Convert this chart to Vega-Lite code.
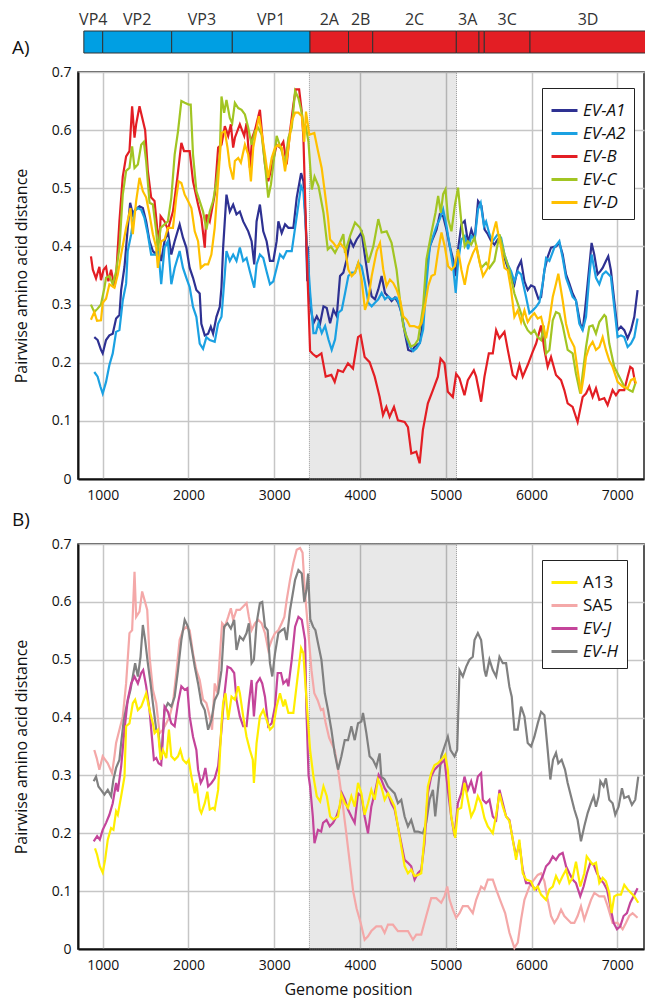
{
"$schema":"https://vega.github.io/schema/vega-lite/v6.json",
"padding":{"left":11,"top":9,"right":0,"bottom":0},
"config":{
 "font":"Open Sans",
 "view":{"stroke":"#222","strokeWidth":1.5},
 "axis":{"labelFont":"Open Sans","labelFontSize":14,"labelColor":"#111","titleFont":"Open Sans","titleFontSize":16,"titleFontWeight":"normal","titleColor":"#111","domainColor":"#111","domainWidth":2,"ticks":false,"gridColor":"#c6c6c6","gridWidth":1.5,"labelPadding":8},
 "legend":{"labelFont":"Open Sans","labelFontSize":17,"labelColor":"#111","symbolType":"stroke","symbolStrokeWidth":3,"symbolSize":676,"strokeColor":"#222","fillColor":"#ffffff","padding":8,"rowPadding":-5.5,"labelOffset":4},
 "title":{"font":"Open Sans","fontSize":19,"fontWeight":"normal","color":"#111"}
},
"datasets":{
"genome":[{"seg":"VP4","start":780,"end":1000,"region":"structural"},{"seg":"VP2","start":1000,"end":1804,"region":"structural"},{"seg":"VP3","start":1804,"end":2511,"region":"structural"},{"seg":"VP1","start":2511,"end":3417,"region":"structural"},{"seg":"2A","start":3417,"end":3866,"region":"nonstructural"},{"seg":"2B","start":3866,"end":4148,"region":"nonstructural"},{"seg":"2C","start":4148,"end":5123,"region":"nonstructural"},{"seg":"3A","start":5123,"end":5387,"region":"nonstructural"},{"seg":"3B","start":5387,"end":5449,"region":"nonstructural"},{"seg":"3C","start":5449,"end":5982,"region":"nonstructural"},{"seg":"3D","start":5982,"end":7335,"region":"nonstructural"}],
"shade":[{"start":3410,"end":5125}],
"evA1":[{"x":902,"y":0.244},{"x":941,"y":0.239},{"x":980,"y":0.222},{"x":1000,"y":0.216},{"x":1039,"y":0.239},{"x":1078,"y":0.247},{"x":1117,"y":0.25},{"x":1156,"y":0.276},{"x":1195,"y":0.282},{"x":1215,"y":0.325},{"x":1254,"y":0.365},{"x":1292,"y":0.432},{"x":1320,"y":0.475},{"x":1351,"y":0.455},{"x":1378,"y":0.463},{"x":1429,"y":0.469},{"x":1468,"y":0.466},{"x":1507,"y":0.443},{"x":1546,"y":0.409},{"x":1585,"y":0.392},{"x":1624,"y":0.386},{"x":1643,"y":0.398},{"x":1682,"y":0.375},{"x":1721,"y":0.409},{"x":1760,"y":0.426},{"x":1800,"y":0.386},{"x":1839,"y":0.409},{"x":1897,"y":0.438},{"x":1936,"y":0.415},{"x":1975,"y":0.398},{"x":2014,"y":0.363},{"x":2053,"y":0.346},{"x":2092,"y":0.325},{"x":2131,"y":0.319},{"x":2150,"y":0.267},{"x":2190,"y":0.247},{"x":2229,"y":0.25},{"x":2260,"y":0.262},{"x":2287,"y":0.25},{"x":2326,"y":0.279},{"x":2365,"y":0.296},{"x":2385,"y":0.33},{"x":2404,"y":0.398},{"x":2443,"y":0.489},{"x":2482,"y":0.46},{"x":2521,"y":0.472},{"x":2560,"y":0.455},{"x":2599,"y":0.46},{"x":2638,"y":0.443},{"x":2697,"y":0.426},{"x":2736,"y":0.409},{"x":2767,"y":0.369},{"x":2794,"y":0.443},{"x":2833,"y":0.472},{"x":2872,"y":0.426},{"x":2911,"y":0.409},{"x":2950,"y":0.375},{"x":2989,"y":0.375},{"x":3028,"y":0.409},{"x":3048,"y":0.443},{"x":3087,"y":0.423},{"x":3126,"y":0.438},{"x":3165,"y":0.432},{"x":3223,"y":0.432},{"x":3262,"y":0.484},{"x":3313,"y":0.526},{"x":3340,"y":0.512},{"x":3365,"y":0.45},{"x":3385,"y":0.34},{"x":3393,"y":0.4},{"x":3405,"y":0.33},{"x":3430,"y":0.29},{"x":3457,"y":0.268},{"x":3496,"y":0.28},{"x":3535,"y":0.268},{"x":3574,"y":0.297},{"x":3612,"y":0.294},{"x":3651,"y":0.268},{"x":3690,"y":0.291},{"x":3729,"y":0.28},{"x":3767,"y":0.349},{"x":3806,"y":0.355},{"x":3845,"y":0.378},{"x":3884,"y":0.412},{"x":3922,"y":0.4},{"x":3961,"y":0.412},{"x":4019,"y":0.424},{"x":4058,"y":0.383},{"x":4097,"y":0.343},{"x":4136,"y":0.314},{"x":4174,"y":0.309},{"x":4213,"y":0.326},{"x":4252,"y":0.349},{"x":4291,"y":0.32},{"x":4329,"y":0.314},{"x":4368,"y":0.306},{"x":4407,"y":0.312},{"x":4446,"y":0.303},{"x":4484,"y":0.286},{"x":4523,"y":0.251},{"x":4562,"y":0.222},{"x":4601,"y":0.22},{"x":4640,"y":0.228},{"x":4698,"y":0.234},{"x":4736,"y":0.274},{"x":4775,"y":0.36},{"x":4814,"y":0.4},{"x":4853,"y":0.415},{"x":4892,"y":0.429},{"x":4930,"y":0.455},{"x":4969,"y":0.452},{"x":5008,"y":0.429},{"x":5047,"y":0.4},{"x":5085,"y":0.378},{"x":5112,"y":0.349},{"x":5143,"y":0.395},{"x":5182,"y":0.438},{"x":5221,"y":0.444},{"x":5260,"y":0.406},{"x":5298,"y":0.429},{"x":5337,"y":0.412},{"x":5376,"y":0.478},{"x":5415,"y":0.47},{"x":5453,"y":0.429},{"x":5490,"y":0.421},{"x":5530,"y":0.409},{"x":5567,"y":0.403},{"x":5606,"y":0.412},{"x":5645,"y":0.409},{"x":5684,"y":0.38},{"x":5723,"y":0.363},{"x":5762,"y":0.352},{"x":5800,"y":0.335},{"x":5839,"y":0.363},{"x":5878,"y":0.375},{"x":5917,"y":0.34},{"x":5955,"y":0.325},{"x":5994,"y":0.333},{"x":6033,"y":0.33},{"x":6080,"y":0.31},{"x":6111,"y":0.313},{"x":6150,"y":0.359},{"x":6188,"y":0.382},{"x":6227,"y":0.398},{"x":6285,"y":0.4},{"x":6324,"y":0.406},{"x":6363,"y":0.386},{"x":6402,"y":0.352},{"x":6441,"y":0.336},{"x":6479,"y":0.319},{"x":6518,"y":0.307},{"x":6568,"y":0.267},{"x":6596,"y":0.256},{"x":6623,"y":0.29},{"x":6654,"y":0.336},{"x":6700,"y":0.406},{"x":6731,"y":0.386},{"x":6770,"y":0.352},{"x":6800,"y":0.357},{"x":6829,"y":0.363},{"x":6867,"y":0.375},{"x":6894,"y":0.383},{"x":6925,"y":0.359},{"x":6964,"y":0.307},{"x":7003,"y":0.256},{"x":7042,"y":0.262},{"x":7081,"y":0.256},{"x":7120,"y":0.242},{"x":7159,"y":0.256},{"x":7198,"y":0.279},{"x":7236,"y":0.325}],
"evA2":[{"x":902,"y":0.184},{"x":941,"y":0.176},{"x":973,"y":0.159},{"x":1000,"y":0.147},{"x":1039,"y":0.167},{"x":1078,"y":0.196},{"x":1117,"y":0.216},{"x":1156,"y":0.253},{"x":1195,"y":0.256},{"x":1234,"y":0.307},{"x":1273,"y":0.336},{"x":1292,"y":0.392},{"x":1332,"y":0.421},{"x":1371,"y":0.461},{"x":1410,"y":0.466},{"x":1449,"y":0.463},{"x":1487,"y":0.449},{"x":1526,"y":0.421},{"x":1565,"y":0.386},{"x":1624,"y":0.386},{"x":1643,"y":0.403},{"x":1682,"y":0.335},{"x":1721,"y":0.398},{"x":1760,"y":0.409},{"x":1800,"y":0.335},{"x":1839,"y":0.363},{"x":1897,"y":0.392},{"x":1936,"y":0.363},{"x":1975,"y":0.346},{"x":2014,"y":0.33},{"x":2053,"y":0.296},{"x":2092,"y":0.279},{"x":2131,"y":0.233},{"x":2170,"y":0.224},{"x":2209,"y":0.244},{"x":2248,"y":0.239},{"x":2306,"y":0.236},{"x":2345,"y":0.267},{"x":2385,"y":0.279},{"x":2424,"y":0.353},{"x":2443,"y":0.392},{"x":2482,"y":0.375},{"x":2521,"y":0.386},{"x":2560,"y":0.375},{"x":2599,"y":0.398},{"x":2638,"y":0.375},{"x":2677,"y":0.38},{"x":2716,"y":0.357},{"x":2767,"y":0.329},{"x":2794,"y":0.369},{"x":2833,"y":0.386},{"x":2872,"y":0.38},{"x":2911,"y":0.357},{"x":2950,"y":0.335},{"x":2989,"y":0.34},{"x":3028,"y":0.363},{"x":3067,"y":0.386},{"x":3106,"y":0.38},{"x":3145,"y":0.392},{"x":3204,"y":0.392},{"x":3243,"y":0.432},{"x":3282,"y":0.472},{"x":3313,"y":0.504},{"x":3340,"y":0.495},{"x":3380,"y":0.406},{"x":3419,"y":0.32},{"x":3457,"y":0.251},{"x":3485,"y":0.251},{"x":3516,"y":0.268},{"x":3554,"y":0.251},{"x":3593,"y":0.263},{"x":3632,"y":0.24},{"x":3670,"y":0.222},{"x":3709,"y":0.24},{"x":3748,"y":0.286},{"x":3787,"y":0.291},{"x":3826,"y":0.32},{"x":3864,"y":0.349},{"x":3903,"y":0.355},{"x":3942,"y":0.355},{"x":3980,"y":0.372},{"x":4019,"y":0.366},{"x":4058,"y":0.337},{"x":4097,"y":0.303},{"x":4136,"y":0.297},{"x":4174,"y":0.303},{"x":4213,"y":0.309},{"x":4252,"y":0.32},{"x":4291,"y":0.309},{"x":4329,"y":0.314},{"x":4368,"y":0.309},{"x":4426,"y":0.312},{"x":4465,"y":0.297},{"x":4504,"y":0.268},{"x":4543,"y":0.243},{"x":4581,"y":0.228},{"x":4620,"y":0.22},{"x":4659,"y":0.225},{"x":4698,"y":0.234},{"x":4736,"y":0.257},{"x":4775,"y":0.337},{"x":4814,"y":0.4},{"x":4853,"y":0.418},{"x":4892,"y":0.435},{"x":4930,"y":0.447},{"x":4969,"y":0.464},{"x":5008,"y":0.435},{"x":5047,"y":0.4},{"x":5085,"y":0.366},{"x":5116,"y":0.32},{"x":5143,"y":0.372},{"x":5182,"y":0.412},{"x":5221,"y":0.418},{"x":5260,"y":0.395},{"x":5298,"y":0.418},{"x":5337,"y":0.412},{"x":5376,"y":0.464},{"x":5407,"y":0.475},{"x":5445,"y":0.435},{"x":5470,"y":0.443},{"x":5509,"y":0.421},{"x":5548,"y":0.409},{"x":5606,"y":0.421},{"x":5645,"y":0.415},{"x":5684,"y":0.386},{"x":5723,"y":0.369},{"x":5762,"y":0.357},{"x":5800,"y":0.34},{"x":5839,"y":0.357},{"x":5878,"y":0.352},{"x":5936,"y":0.313},{"x":5975,"y":0.285},{"x":6014,"y":0.29},{"x":6053,"y":0.296},{"x":6091,"y":0.304},{"x":6130,"y":0.336},{"x":6169,"y":0.38},{"x":6208,"y":0.375},{"x":6266,"y":0.398},{"x":6324,"y":0.409},{"x":6363,"y":0.38},{"x":6402,"y":0.346},{"x":6441,"y":0.33},{"x":6479,"y":0.313},{"x":6518,"y":0.307},{"x":6557,"y":0.267},{"x":6596,"y":0.256},{"x":6635,"y":0.279},{"x":6673,"y":0.348},{"x":6700,"y":0.386},{"x":6751,"y":0.346},{"x":6790,"y":0.335},{"x":6829,"y":0.352},{"x":6867,"y":0.357},{"x":6925,"y":0.348},{"x":6964,"y":0.296},{"x":7003,"y":0.244},{"x":7042,"y":0.247},{"x":7081,"y":0.244},{"x":7120,"y":0.227},{"x":7159,"y":0.233},{"x":7198,"y":0.244},{"x":7236,"y":0.276}],
"evB":[{"x":863,"y":0.383},{"x":885,"y":0.36},{"x":922,"y":0.345},{"x":961,"y":0.365},{"x":980,"y":0.342},{"x":1010,"y":0.36},{"x":1039,"y":0.365},{"x":1066,"y":0.34},{"x":1098,"y":0.36},{"x":1137,"y":0.33},{"x":1156,"y":0.348},{"x":1195,"y":0.443},{"x":1234,"y":0.52},{"x":1273,"y":0.555},{"x":1312,"y":0.564},{"x":1343,"y":0.641},{"x":1371,"y":0.587},{"x":1390,"y":0.61},{"x":1429,"y":0.641},{"x":1495,"y":0.6},{"x":1526,"y":0.53},{"x":1565,"y":0.484},{"x":1604,"y":0.478},{"x":1635,"y":0.432},{"x":1663,"y":0.409},{"x":1675,"y":0.452},{"x":1721,"y":0.443},{"x":1760,"y":0.429},{"x":1819,"y":0.46},{"x":1870,"y":0.518},{"x":1917,"y":0.578},{"x":1948,"y":0.564},{"x":2014,"y":0.564},{"x":2053,"y":0.512},{"x":2112,"y":0.472},{"x":2150,"y":0.449},{"x":2190,"y":0.398},{"x":2209,"y":0.455},{"x":2248,"y":0.443},{"x":2306,"y":0.489},{"x":2346,"y":0.57},{"x":2385,"y":0.575},{"x":2424,"y":0.607},{"x":2463,"y":0.59},{"x":2494,"y":0.61},{"x":2521,"y":0.57},{"x":2541,"y":0.587},{"x":2599,"y":0.61},{"x":2650,"y":0.59},{"x":2677,"y":0.612},{"x":2716,"y":0.535},{"x":2743,"y":0.587},{"x":2775,"y":0.6},{"x":2833,"y":0.635},{"x":2860,"y":0.59},{"x":2892,"y":0.541},{"x":2930,"y":0.512},{"x":2977,"y":0.541},{"x":3028,"y":0.575},{"x":3067,"y":0.57},{"x":3106,"y":0.58},{"x":3145,"y":0.541},{"x":3184,"y":0.598},{"x":3223,"y":0.644},{"x":3250,"y":0.67},{"x":3290,"y":0.67},{"x":3321,"y":0.632},{"x":3340,"y":0.587},{"x":3368,"y":0.443},{"x":3390,"y":0.34},{"x":3418,"y":0.22},{"x":3450,"y":0.215},{"x":3492,"y":0.21},{"x":3550,"y":0.216},{"x":3600,"y":0.176},{"x":3666,"y":0.179},{"x":3705,"y":0.167},{"x":3744,"y":0.187},{"x":3802,"y":0.184},{"x":3860,"y":0.199},{"x":3918,"y":0.19},{"x":3977,"y":0.244},{"x":4008,"y":0.247},{"x":4054,"y":0.21},{"x":4112,"y":0.201},{"x":4171,"y":0.176},{"x":4229,"y":0.141},{"x":4268,"y":0.11},{"x":4307,"y":0.124},{"x":4345,"y":0.107},{"x":4396,"y":0.124},{"x":4442,"y":0.101},{"x":4520,"y":0.098},{"x":4559,"y":0.089},{"x":4598,"y":0.044},{"x":4656,"y":0.047},{"x":4695,"y":0.027},{"x":4733,"y":0.084},{"x":4791,"y":0.13},{"x":4850,"y":0.153},{"x":4908,"y":0.176},{"x":4939,"y":0.207},{"x":4985,"y":0.199},{"x":5024,"y":0.15},{"x":5082,"y":0.141},{"x":5121,"y":0.181},{"x":5160,"y":0.173},{"x":5218,"y":0.144},{"x":5257,"y":0.17},{"x":5327,"y":0.187},{"x":5354,"y":0.176},{"x":5412,"y":0.133},{"x":5451,"y":0.176},{"x":5502,"y":0.216},{"x":5548,"y":0.216},{"x":5587,"y":0.256},{"x":5626,"y":0.242},{"x":5684,"y":0.253},{"x":5723,"y":0.222},{"x":5781,"y":0.179},{"x":5820,"y":0.173},{"x":5859,"y":0.196},{"x":5897,"y":0.176},{"x":5955,"y":0.196},{"x":6014,"y":0.219},{"x":6053,"y":0.233},{"x":6111,"y":0.264},{"x":6150,"y":0.222},{"x":6188,"y":0.193},{"x":6227,"y":0.21},{"x":6285,"y":0.179},{"x":6344,"y":0.17},{"x":6382,"y":0.153},{"x":6421,"y":0.13},{"x":6479,"y":0.124},{"x":6537,"y":0.098},{"x":6596,"y":0.141},{"x":6635,"y":0.147},{"x":6673,"y":0.159},{"x":6712,"y":0.141},{"x":6751,"y":0.156},{"x":6790,"y":0.136},{"x":6848,"y":0.139},{"x":6887,"y":0.127},{"x":6945,"y":0.153},{"x":6984,"y":0.144},{"x":7023,"y":0.153},{"x":7081,"y":0.153},{"x":7120,"y":0.176},{"x":7151,"y":0.193},{"x":7178,"y":0.19},{"x":7209,"y":0.164}],
"evC":[{"x":863,"y":0.3},{"x":902,"y":0.287},{"x":941,"y":0.293},{"x":980,"y":0.3},{"x":1020,"y":0.329},{"x":1039,"y":0.346},{"x":1078,"y":0.349},{"x":1117,"y":0.335},{"x":1156,"y":0.357},{"x":1195,"y":0.398},{"x":1234,"y":0.489},{"x":1273,"y":0.53},{"x":1312,"y":0.535},{"x":1343,"y":0.572},{"x":1371,"y":0.535},{"x":1410,"y":0.541},{"x":1449,"y":0.575},{"x":1480,"y":0.58},{"x":1507,"y":0.546},{"x":1546,"y":0.475},{"x":1585,"y":0.472},{"x":1624,"y":0.426},{"x":1643,"y":0.392},{"x":1675,"y":0.432},{"x":1721,"y":0.438},{"x":1760,"y":0.443},{"x":1800,"y":0.484},{"x":1839,"y":0.558},{"x":1878,"y":0.598},{"x":1917,"y":0.65},{"x":1956,"y":0.647},{"x":2003,"y":0.644},{"x":2026,"y":0.644},{"x":2053,"y":0.558},{"x":2092,"y":0.495},{"x":2131,"y":0.478},{"x":2170,"y":0.46},{"x":2209,"y":0.429},{"x":2248,"y":0.46},{"x":2287,"y":0.478},{"x":2326,"y":0.512},{"x":2365,"y":0.558},{"x":2385,"y":0.658},{"x":2416,"y":0.63},{"x":2443,"y":0.652},{"x":2482,"y":0.621},{"x":2510,"y":0.612},{"x":2541,"y":0.647},{"x":2580,"y":0.638},{"x":2619,"y":0.635},{"x":2658,"y":0.627},{"x":2697,"y":0.604},{"x":2736,"y":0.575},{"x":2775,"y":0.598},{"x":2814,"y":0.604},{"x":2853,"y":0.592},{"x":2892,"y":0.541},{"x":2930,"y":0.484},{"x":2962,"y":0.507},{"x":2989,"y":0.541},{"x":3028,"y":0.59},{"x":3087,"y":0.564},{"x":3126,"y":0.541},{"x":3165,"y":0.587},{"x":3204,"y":0.604},{"x":3243,"y":0.667},{"x":3282,"y":0.655},{"x":3321,"y":0.63},{"x":3340,"y":0.61},{"x":3368,"y":0.607},{"x":3399,"y":0.58},{"x":3438,"y":0.498},{"x":3470,"y":0.52},{"x":3516,"y":0.504},{"x":3574,"y":0.458},{"x":3624,"y":0.395},{"x":3660,"y":0.4},{"x":3709,"y":0.389},{"x":3755,"y":0.403},{"x":3806,"y":0.421},{"x":3825,"y":0.389},{"x":3884,"y":0.418},{"x":3942,"y":0.441},{"x":4000,"y":0.432},{"x":4039,"y":0.418},{"x":4097,"y":0.372},{"x":4155,"y":0.4},{"x":4213,"y":0.447},{"x":4252,"y":0.424},{"x":4310,"y":0.426},{"x":4368,"y":0.406},{"x":4426,"y":0.36},{"x":4465,"y":0.309},{"x":4504,"y":0.263},{"x":4543,"y":0.245},{"x":4593,"y":0.228},{"x":4640,"y":0.231},{"x":4678,"y":0.24},{"x":4736,"y":0.297},{"x":4775,"y":0.378},{"x":4833,"y":0.424},{"x":4880,"y":0.458},{"x":4911,"y":0.487},{"x":4942,"y":0.458},{"x":4969,"y":0.49},{"x":4996,"y":0.498},{"x":5027,"y":0.447},{"x":5066,"y":0.426},{"x":5105,"y":0.47},{"x":5143,"y":0.501},{"x":5182,"y":0.441},{"x":5221,"y":0.4},{"x":5257,"y":0.409},{"x":5296,"y":0.403},{"x":5335,"y":0.415},{"x":5393,"y":0.375},{"x":5412,"y":0.363},{"x":5470,"y":0.372},{"x":5509,"y":0.363},{"x":5567,"y":0.375},{"x":5626,"y":0.421},{"x":5684,"y":0.386},{"x":5742,"y":0.359},{"x":5800,"y":0.319},{"x":5859,"y":0.293},{"x":5917,"y":0.267},{"x":5955,"y":0.256},{"x":5994,"y":0.25},{"x":6033,"y":0.256},{"x":6072,"y":0.244},{"x":6111,"y":0.239},{"x":6142,"y":0.264},{"x":6169,"y":0.216},{"x":6208,"y":0.222},{"x":6247,"y":0.273},{"x":6285,"y":0.287},{"x":6324,"y":0.284},{"x":6363,"y":0.264},{"x":6421,"y":0.222},{"x":6479,"y":0.216},{"x":6518,"y":0.181},{"x":6568,"y":0.147},{"x":6596,"y":0.181},{"x":6635,"y":0.227},{"x":6673,"y":0.262},{"x":6712,"y":0.264},{"x":6751,"y":0.25},{"x":6790,"y":0.27},{"x":6848,"y":0.282},{"x":6867,"y":0.279},{"x":6906,"y":0.233},{"x":6964,"y":0.193},{"x":7023,"y":0.176},{"x":7081,"y":0.159},{"x":7139,"y":0.153},{"x":7178,"y":0.15},{"x":7209,"y":0.164}],
"evD":[{"x":863,"y":0.274},{"x":902,"y":0.287},{"x":934,"y":0.272},{"x":980,"y":0.273},{"x":1000,"y":0.303},{"x":1039,"y":0.31},{"x":1078,"y":0.335},{"x":1137,"y":0.329},{"x":1176,"y":0.352},{"x":1215,"y":0.386},{"x":1273,"y":0.432},{"x":1324,"y":0.466},{"x":1351,"y":0.421},{"x":1390,"y":0.478},{"x":1429,"y":0.518},{"x":1468,"y":0.495},{"x":1507,"y":0.484},{"x":1546,"y":0.455},{"x":1585,"y":0.421},{"x":1624,"y":0.398},{"x":1643,"y":0.363},{"x":1682,"y":0.409},{"x":1721,"y":0.412},{"x":1760,"y":0.432},{"x":1819,"y":0.432},{"x":1858,"y":0.484},{"x":1885,"y":0.512},{"x":1917,"y":0.509},{"x":1956,"y":0.489},{"x":1995,"y":0.478},{"x":2034,"y":0.466},{"x":2073,"y":0.426},{"x":2112,"y":0.409},{"x":2143,"y":0.363},{"x":2190,"y":0.369},{"x":2229,"y":0.369},{"x":2267,"y":0.386},{"x":2306,"y":0.432},{"x":2345,"y":0.512},{"x":2385,"y":0.595},{"x":2424,"y":0.598},{"x":2455,"y":0.57},{"x":2482,"y":0.538},{"x":2521,"y":0.515},{"x":2541,"y":0.547},{"x":2580,"y":0.552},{"x":2611,"y":0.544},{"x":2658,"y":0.575},{"x":2697,"y":0.558},{"x":2728,"y":0.512},{"x":2755,"y":0.57},{"x":2794,"y":0.601},{"x":2821,"y":0.624},{"x":2853,"y":0.595},{"x":2892,"y":0.558},{"x":2930,"y":0.518},{"x":2970,"y":0.552},{"x":3009,"y":0.57},{"x":3048,"y":0.575},{"x":3087,"y":0.57},{"x":3126,"y":0.529},{"x":3165,"y":0.57},{"x":3204,"y":0.615},{"x":3243,"y":0.63},{"x":3282,"y":0.63},{"x":3321,"y":0.624},{"x":3350,"y":0.58},{"x":3370,"y":0.632},{"x":3409,"y":0.592},{"x":3467,"y":0.595},{"x":3510,"y":0.564},{"x":3553,"y":0.535},{"x":3584,"y":0.5},{"x":3627,"y":0.449},{"x":3651,"y":0.412},{"x":3690,"y":0.406},{"x":3729,"y":0.398},{"x":3767,"y":0.406},{"x":3826,"y":0.395},{"x":3864,"y":0.36},{"x":3903,"y":0.349},{"x":3942,"y":0.355},{"x":3980,"y":0.372},{"x":4019,"y":0.343},{"x":4058,"y":0.291},{"x":4097,"y":0.309},{"x":4136,"y":0.349},{"x":4194,"y":0.392},{"x":4233,"y":0.406},{"x":4271,"y":0.36},{"x":4310,"y":0.332},{"x":4349,"y":0.343},{"x":4388,"y":0.337},{"x":4426,"y":0.326},{"x":4465,"y":0.309},{"x":4504,"y":0.28},{"x":4543,"y":0.274},{"x":4581,"y":0.263},{"x":4630,"y":0.263},{"x":4678,"y":0.26},{"x":4717,"y":0.268},{"x":4756,"y":0.297},{"x":4795,"y":0.332},{"x":4833,"y":0.349},{"x":4872,"y":0.352},{"x":4911,"y":0.392},{"x":4950,"y":0.424},{"x":4988,"y":0.4},{"x":5027,"y":0.366},{"x":5066,"y":0.36},{"x":5105,"y":0.366},{"x":5143,"y":0.395},{"x":5182,"y":0.36},{"x":5221,"y":0.334},{"x":5260,"y":0.366},{"x":5318,"y":0.389},{"x":5357,"y":0.4},{"x":5395,"y":0.372},{"x":5434,"y":0.349},{"x":5490,"y":0.363},{"x":5548,"y":0.421},{"x":5587,"y":0.443},{"x":5606,"y":0.426},{"x":5645,"y":0.398},{"x":5684,"y":0.363},{"x":5723,"y":0.359},{"x":5762,"y":0.325},{"x":5800,"y":0.279},{"x":5839,"y":0.29},{"x":5878,"y":0.27},{"x":5917,"y":0.29},{"x":5955,"y":0.27},{"x":5994,"y":0.279},{"x":6033,"y":0.285},{"x":6072,"y":0.276},{"x":6111,"y":0.279},{"x":6169,"y":0.242},{"x":6208,"y":0.273},{"x":6247,"y":0.313},{"x":6285,"y":0.336},{"x":6312,"y":0.353},{"x":6363,"y":0.307},{"x":6402,"y":0.267},{"x":6441,"y":0.244},{"x":6499,"y":0.227},{"x":6537,"y":0.187},{"x":6576,"y":0.147},{"x":6607,"y":0.176},{"x":6635,"y":0.21},{"x":6673,"y":0.227},{"x":6712,"y":0.236},{"x":6751,"y":0.222},{"x":6790,"y":0.227},{"x":6829,"y":0.244},{"x":6867,"y":0.222},{"x":6906,"y":0.204},{"x":6945,"y":0.193},{"x":7003,"y":0.167},{"x":7062,"y":0.159},{"x":7120,"y":0.156},{"x":7159,"y":0.17},{"x":7198,"y":0.173},{"x":7220,"y":0.164}],
"a13":[{"x":910,"y":0.174},{"x":935,"y":0.163},{"x":966,"y":0.143},{"x":1000,"y":0.132},{"x":1028,"y":0.154},{"x":1059,"y":0.189},{"x":1098,"y":0.209},{"x":1125,"y":0.206},{"x":1156,"y":0.238},{"x":1176,"y":0.232},{"x":1215,"y":0.264},{"x":1254,"y":0.298},{"x":1273,"y":0.385},{"x":1312,"y":0.39},{"x":1351,"y":0.425},{"x":1378,"y":0.431},{"x":1410,"y":0.413},{"x":1449,"y":0.419},{"x":1480,"y":0.431},{"x":1507,"y":0.442},{"x":1546,"y":0.413},{"x":1585,"y":0.39},{"x":1605,"y":0.373},{"x":1643,"y":0.379},{"x":1675,"y":0.327},{"x":1702,"y":0.344},{"x":1741,"y":0.33},{"x":1772,"y":0.379},{"x":1800,"y":0.333},{"x":1839,"y":0.327},{"x":1878,"y":0.333},{"x":1905,"y":0.344},{"x":1936,"y":0.327},{"x":1975,"y":0.321},{"x":2003,"y":0.327},{"x":2034,"y":0.298},{"x":2073,"y":0.269},{"x":2092,"y":0.287},{"x":2131,"y":0.241},{"x":2150,"y":0.235},{"x":2190,"y":0.252},{"x":2220,"y":0.272},{"x":2248,"y":0.241},{"x":2287,"y":0.244},{"x":2306,"y":0.241},{"x":2346,"y":0.275},{"x":2385,"y":0.39},{"x":2404,"y":0.425},{"x":2432,"y":0.442},{"x":2463,"y":0.396},{"x":2502,"y":0.436},{"x":2541,"y":0.431},{"x":2580,"y":0.454},{"x":2599,"y":0.442},{"x":2638,"y":0.402},{"x":2677,"y":0.367},{"x":2716,"y":0.344},{"x":2750,"y":0.327},{"x":2763,"y":0.287},{"x":2794,"y":0.356},{"x":2833,"y":0.402},{"x":2872,"y":0.413},{"x":2911,"y":0.396},{"x":2950,"y":0.379},{"x":2989,"y":0.385},{"x":3028,"y":0.419},{"x":3067,"y":0.442},{"x":3106,"y":0.419},{"x":3126,"y":0.431},{"x":3165,"y":0.408},{"x":3223,"y":0.408},{"x":3282,"y":0.482},{"x":3313,"y":0.52},{"x":3340,"y":0.511},{"x":3360,"y":0.465},{"x":3390,"y":0.402},{"x":3418,"y":0.344},{"x":3457,"y":0.298},{"x":3496,"y":0.264},{"x":3535,"y":0.255},{"x":3574,"y":0.281},{"x":3613,"y":0.264},{"x":3652,"y":0.229},{"x":3686,"y":0.224},{"x":3744,"y":0.229},{"x":3783,"y":0.267},{"x":3822,"y":0.252},{"x":3860,"y":0.244},{"x":3899,"y":0.264},{"x":3938,"y":0.246},{"x":3977,"y":0.287},{"x":4016,"y":0.269},{"x":4054,"y":0.232},{"x":4093,"y":0.252},{"x":4132,"y":0.275},{"x":4171,"y":0.258},{"x":4210,"y":0.293},{"x":4248,"y":0.281},{"x":4287,"y":0.258},{"x":4326,"y":0.269},{"x":4365,"y":0.258},{"x":4404,"y":0.246},{"x":4442,"y":0.212},{"x":4481,"y":0.177},{"x":4520,"y":0.143},{"x":4559,"y":0.131},{"x":4597,"y":0.137},{"x":4636,"y":0.126},{"x":4675,"y":0.128},{"x":4714,"y":0.131},{"x":4752,"y":0.195},{"x":4791,"y":0.281},{"x":4830,"y":0.304},{"x":4869,"y":0.318},{"x":4908,"y":0.321},{"x":4947,"y":0.327},{"x":4993,"y":0.336},{"x":5024,"y":0.31},{"x":5063,"y":0.229},{"x":5110,"y":0.192},{"x":5141,"y":0.241},{"x":5180,"y":0.244},{"x":5218,"y":0.287},{"x":5257,"y":0.258},{"x":5296,"y":0.229},{"x":5335,"y":0.241},{"x":5374,"y":0.264},{"x":5412,"y":0.252},{"x":5451,"y":0.226},{"x":5490,"y":0.212},{"x":5548,"y":0.2},{"x":5587,"y":0.232},{"x":5626,"y":0.269},{"x":5665,"y":0.246},{"x":5703,"y":0.229},{"x":5742,"y":0.221},{"x":5781,"y":0.189},{"x":5820,"y":0.154},{"x":5858,"y":0.189},{"x":5897,"y":0.131},{"x":5936,"y":0.12},{"x":5994,"y":0.117},{"x":6033,"y":0.103},{"x":6072,"y":0.108},{"x":6111,"y":0.094},{"x":6169,"y":0.085},{"x":6208,"y":0.103},{"x":6247,"y":0.108},{"x":6285,"y":0.126},{"x":6324,"y":0.114},{"x":6363,"y":0.126},{"x":6402,"y":0.137},{"x":6441,"y":0.114},{"x":6479,"y":0.123},{"x":6518,"y":0.151},{"x":6568,"y":0.108},{"x":6615,"y":0.131},{"x":6643,"y":0.16},{"x":6673,"y":0.154},{"x":6712,"y":0.146},{"x":6751,"y":0.149},{"x":6790,"y":0.114},{"x":6829,"y":0.123},{"x":6867,"y":0.117},{"x":6906,"y":0.097},{"x":6933,"y":0.062},{"x":6964,"y":0.091},{"x":7003,"y":0.094},{"x":7042,"y":0.094},{"x":7081,"y":0.111},{"x":7120,"y":0.103},{"x":7159,"y":0.097},{"x":7198,"y":0.091},{"x":7244,"y":0.08}],
"sa5":[{"x":902,"y":0.344},{"x":930,"y":0.33},{"x":961,"y":0.31},{"x":1000,"y":0.333},{"x":1059,"y":0.321},{"x":1109,"y":0.304},{"x":1137,"y":0.333},{"x":1156,"y":0.356},{"x":1195,"y":0.379},{"x":1234,"y":0.402},{"x":1273,"y":0.459},{"x":1312,"y":0.546},{"x":1343,"y":0.551},{"x":1371,"y":0.652},{"x":1390,"y":0.574},{"x":1429,"y":0.583},{"x":1460,"y":0.618},{"x":1488,"y":0.603},{"x":1519,"y":0.586},{"x":1546,"y":0.506},{"x":1585,"y":0.448},{"x":1624,"y":0.425},{"x":1663,"y":0.373},{"x":1702,"y":0.379},{"x":1741,"y":0.39},{"x":1780,"y":0.402},{"x":1819,"y":0.425},{"x":1858,"y":0.477},{"x":1897,"y":0.534},{"x":1936,"y":0.551},{"x":1975,"y":0.557},{"x":2014,"y":0.551},{"x":2053,"y":0.511},{"x":2092,"y":0.482},{"x":2131,"y":0.465},{"x":2170,"y":0.431},{"x":2209,"y":0.425},{"x":2248,"y":0.402},{"x":2275,"y":0.379},{"x":2306,"y":0.459},{"x":2338,"y":0.442},{"x":2365,"y":0.505},{"x":2392,"y":0.563},{"x":2424,"y":0.557},{"x":2463,"y":0.574},{"x":2494,"y":0.589},{"x":2521,"y":0.569},{"x":2560,"y":0.586},{"x":2599,"y":0.586},{"x":2638,"y":0.592},{"x":2677,"y":0.598},{"x":2704,"y":0.574},{"x":2736,"y":0.551},{"x":2775,"y":0.563},{"x":2814,"y":0.569},{"x":2853,"y":0.563},{"x":2892,"y":0.546},{"x":2930,"y":0.517},{"x":2970,"y":0.534},{"x":3009,"y":0.546},{"x":3048,"y":0.551},{"x":3087,"y":0.563},{"x":3118,"y":0.574},{"x":3145,"y":0.603},{"x":3184,"y":0.638},{"x":3223,"y":0.667},{"x":3262,"y":0.69},{"x":3301,"y":0.693},{"x":3330,"y":0.685},{"x":3356,"y":0.62},{"x":3395,"y":0.551},{"x":3434,"y":0.482},{"x":3467,"y":0.442},{"x":3506,"y":0.43},{"x":3545,"y":0.413},{"x":3570,"y":0.415},{"x":3600,"y":0.39},{"x":3640,"y":0.365},{"x":3670,"y":0.355},{"x":3705,"y":0.344},{"x":3744,"y":0.31},{"x":3790,"y":0.26},{"x":3840,"y":0.2},{"x":3880,"y":0.15},{"x":3920,"y":0.1},{"x":3960,"y":0.07},{"x":4008,"y":0.045},{"x":4054,"y":0.016},{"x":4093,"y":0.022},{"x":4132,"y":0.031},{"x":4190,"y":0.039},{"x":4248,"y":0.039},{"x":4287,"y":0.028},{"x":4326,"y":0.042},{"x":4384,"y":0.042},{"x":4442,"y":0.031},{"x":4500,"y":0.031},{"x":4559,"y":0.031},{"x":4617,"y":0.016},{"x":4656,"y":0.025},{"x":4714,"y":0.025},{"x":4772,"y":0.057},{"x":4830,"y":0.088},{"x":4889,"y":0.088},{"x":4947,"y":0.08},{"x":4985,"y":0.091},{"x":5017,"y":0.108},{"x":5044,"y":0.085},{"x":5082,"y":0.068},{"x":5121,"y":0.054},{"x":5160,"y":0.062},{"x":5199,"y":0.074},{"x":5257,"y":0.074},{"x":5315,"y":0.062},{"x":5354,"y":0.085},{"x":5412,"y":0.108},{"x":5451,"y":0.103},{"x":5490,"y":0.12},{"x":5548,"y":0.12},{"x":5587,"y":0.103},{"x":5645,"y":0.08},{"x":5692,"y":0.062},{"x":5742,"y":0.028},{"x":5800,"y":0.002},{"x":5839,"y":0.011},{"x":5878,"y":0.051},{"x":5917,"y":0.085},{"x":5975,"y":0.108},{"x":6014,"y":0.117},{"x":6072,"y":0.128},{"x":6111,"y":0.131},{"x":6150,"y":0.117},{"x":6188,"y":0.085},{"x":6227,"y":0.057},{"x":6266,"y":0.045},{"x":6305,"y":0.054},{"x":6344,"y":0.068},{"x":6382,"y":0.057},{"x":6421,"y":0.051},{"x":6460,"y":0.045},{"x":6499,"y":0.045},{"x":6537,"y":0.057},{"x":6576,"y":0.074},{"x":6615,"y":0.051},{"x":6654,"y":0.068},{"x":6693,"y":0.085},{"x":6732,"y":0.097},{"x":6790,"y":0.091},{"x":6848,"y":0.091},{"x":6887,"y":0.074},{"x":6945,"y":0.045},{"x":7003,"y":0.045},{"x":7062,"y":0.034},{"x":7100,"y":0.045},{"x":7139,"y":0.057},{"x":7178,"y":0.062},{"x":7236,"y":0.054}],
"evJ":[{"x":895,"y":0.186},{"x":935,"y":0.195},{"x":966,"y":0.189},{"x":1000,"y":0.206},{"x":1039,"y":0.218},{"x":1078,"y":0.232},{"x":1117,"y":0.252},{"x":1156,"y":0.287},{"x":1176,"y":0.272},{"x":1215,"y":0.315},{"x":1254,"y":0.379},{"x":1292,"y":0.431},{"x":1332,"y":0.459},{"x":1371,"y":0.471},{"x":1410,"y":0.459},{"x":1449,"y":0.477},{"x":1472,"y":0.482},{"x":1507,"y":0.454},{"x":1546,"y":0.413},{"x":1573,"y":0.367},{"x":1597,"y":0.327},{"x":1624,"y":0.33},{"x":1651,"y":0.321},{"x":1682,"y":0.318},{"x":1721,"y":0.419},{"x":1760,"y":0.41},{"x":1800,"y":0.39},{"x":1839,"y":0.385},{"x":1878,"y":0.425},{"x":1917,"y":0.454},{"x":1956,"y":0.448},{"x":1987,"y":0.451},{"x":2014,"y":0.402},{"x":2053,"y":0.367},{"x":2092,"y":0.344},{"x":2112,"y":0.31},{"x":2143,"y":0.287},{"x":2170,"y":0.295},{"x":2197,"y":0.313},{"x":2229,"y":0.281},{"x":2268,"y":0.287},{"x":2306,"y":0.295},{"x":2346,"y":0.316},{"x":2385,"y":0.379},{"x":2416,"y":0.436},{"x":2455,"y":0.488},{"x":2494,"y":0.485},{"x":2533,"y":0.477},{"x":2560,"y":0.431},{"x":2599,"y":0.402},{"x":2638,"y":0.385},{"x":2677,"y":0.385},{"x":2704,"y":0.425},{"x":2736,"y":0.465},{"x":2763,"y":0.402},{"x":2794,"y":0.459},{"x":2833,"y":0.468},{"x":2860,"y":0.459},{"x":2892,"y":0.436},{"x":2930,"y":0.385},{"x":2970,"y":0.39},{"x":3009,"y":0.419},{"x":3040,"y":0.477},{"x":3079,"y":0.477},{"x":3106,"y":0.459},{"x":3145,"y":0.465},{"x":3165,"y":0.454},{"x":3204,"y":0.5},{"x":3243,"y":0.557},{"x":3282,"y":0.574},{"x":3321,"y":0.569},{"x":3360,"y":0.534},{"x":3375,"y":0.413},{"x":3400,"y":0.3},{"x":3418,"y":0.281},{"x":3450,"y":0.229},{"x":3469,"y":0.183},{"x":3510,"y":0.206},{"x":3547,"y":0.203},{"x":3569,"y":0.218},{"x":3610,"y":0.223},{"x":3647,"y":0.212},{"x":3686,"y":0.218},{"x":3725,"y":0.229},{"x":3764,"y":0.246},{"x":3790,"y":0.269},{"x":3825,"y":0.258},{"x":3860,"y":0.241},{"x":3899,"y":0.229},{"x":3938,"y":0.218},{"x":3977,"y":0.269},{"x":4016,"y":0.264},{"x":4054,"y":0.229},{"x":4093,"y":0.2},{"x":4132,"y":0.246},{"x":4171,"y":0.269},{"x":4217,"y":0.301},{"x":4248,"y":0.293},{"x":4287,"y":0.278},{"x":4326,"y":0.269},{"x":4365,"y":0.252},{"x":4404,"y":0.241},{"x":4442,"y":0.212},{"x":4481,"y":0.183},{"x":4520,"y":0.154},{"x":4559,"y":0.149},{"x":4597,"y":0.143},{"x":4636,"y":0.12},{"x":4675,"y":0.131},{"x":4714,"y":0.137},{"x":4752,"y":0.183},{"x":4791,"y":0.269},{"x":4830,"y":0.298},{"x":4869,"y":0.31},{"x":4908,"y":0.316},{"x":4947,"y":0.321},{"x":4985,"y":0.327},{"x":5024,"y":0.275},{"x":5063,"y":0.229},{"x":5102,"y":0.195},{"x":5141,"y":0.252},{"x":5180,"y":0.269},{"x":5218,"y":0.298},{"x":5257,"y":0.275},{"x":5296,"y":0.29},{"x":5335,"y":0.269},{"x":5374,"y":0.298},{"x":5412,"y":0.304},{"x":5432,"y":0.258},{"x":5470,"y":0.252},{"x":5509,"y":0.258},{"x":5548,"y":0.229},{"x":5587,"y":0.223},{"x":5626,"y":0.275},{"x":5665,"y":0.252},{"x":5703,"y":0.229},{"x":5742,"y":0.223},{"x":5781,"y":0.189},{"x":5820,"y":0.16},{"x":5858,"y":0.183},{"x":5897,"y":0.137},{"x":5936,"y":0.114},{"x":5975,"y":0.114},{"x":6014,"y":0.108},{"x":6053,"y":0.103},{"x":6091,"y":0.114},{"x":6130,"y":0.126},{"x":6169,"y":0.143},{"x":6208,"y":0.149},{"x":6247,"y":0.16},{"x":6285,"y":0.154},{"x":6324,"y":0.163},{"x":6363,"y":0.166},{"x":6402,"y":0.143},{"x":6441,"y":0.131},{"x":6479,"y":0.12},{"x":6518,"y":0.114},{"x":6568,"y":0.091},{"x":6607,"y":0.108},{"x":6646,"y":0.131},{"x":6685,"y":0.149},{"x":6724,"y":0.146},{"x":6763,"y":0.131},{"x":6802,"y":0.12},{"x":6840,"y":0.114},{"x":6879,"y":0.103},{"x":6918,"y":0.074},{"x":6957,"y":0.045},{"x":6996,"y":0.034},{"x":7034,"y":0.039},{"x":7073,"y":0.057},{"x":7112,"y":0.062},{"x":7151,"y":0.08},{"x":7190,"y":0.091},{"x":7236,"y":0.105}],
"evH":[{"x":895,"y":0.29},{"x":922,"y":0.298},{"x":950,"y":0.281},{"x":980,"y":0.275},{"x":1020,"y":0.267},{"x":1059,"y":0.275},{"x":1098,"y":0.264},{"x":1125,"y":0.293},{"x":1156,"y":0.313},{"x":1195,"y":0.327},{"x":1215,"y":0.356},{"x":1246,"y":0.396},{"x":1285,"y":0.425},{"x":1324,"y":0.448},{"x":1351,"y":0.471},{"x":1378,"y":0.494},{"x":1410,"y":0.471},{"x":1441,"y":0.505},{"x":1468,"y":0.56},{"x":1495,"y":0.534},{"x":1526,"y":0.494},{"x":1558,"y":0.459},{"x":1585,"y":0.425},{"x":1624,"y":0.379},{"x":1651,"y":0.373},{"x":1682,"y":0.327},{"x":1721,"y":0.413},{"x":1760,"y":0.425},{"x":1800,"y":0.419},{"x":1839,"y":0.436},{"x":1878,"y":0.482},{"x":1917,"y":0.534},{"x":1956,"y":0.569},{"x":1995,"y":0.557},{"x":2034,"y":0.523},{"x":2073,"y":0.488},{"x":2112,"y":0.459},{"x":2150,"y":0.425},{"x":2190,"y":0.413},{"x":2229,"y":0.379},{"x":2268,"y":0.396},{"x":2306,"y":0.43},{"x":2346,"y":0.442},{"x":2385,"y":0.482},{"x":2416,"y":0.557},{"x":2455,"y":0.563},{"x":2494,"y":0.554},{"x":2533,"y":0.569},{"x":2560,"y":0.517},{"x":2599,"y":0.54},{"x":2638,"y":0.534},{"x":2677,"y":0.546},{"x":2704,"y":0.563},{"x":2736,"y":0.494},{"x":2763,"y":0.5},{"x":2794,"y":0.563},{"x":2833,"y":0.598},{"x":2860,"y":0.6},{"x":2892,"y":0.557},{"x":2923,"y":0.551},{"x":2950,"y":0.494},{"x":2977,"y":0.471},{"x":3009,"y":0.511},{"x":3048,"y":0.546},{"x":3087,"y":0.551},{"x":3118,"y":0.554},{"x":3145,"y":0.534},{"x":3184,"y":0.586},{"x":3243,"y":0.638},{"x":3282,"y":0.655},{"x":3321,"y":0.649},{"x":3350,"y":0.6},{"x":3375,"y":0.62},{"x":3395,"y":0.649},{"x":3420,"y":0.57},{"x":3453,"y":0.557},{"x":3480,"y":0.551},{"x":3511,"y":0.528},{"x":3550,"y":0.5},{"x":3589,"y":0.442},{"x":3627,"y":0.413},{"x":3666,"y":0.379},{"x":3705,"y":0.338},{"x":3744,"y":0.31},{"x":3783,"y":0.333},{"x":3822,"y":0.361},{"x":3860,"y":0.361},{"x":3899,"y":0.385},{"x":3938,"y":0.361},{"x":3977,"y":0.39},{"x":4016,"y":0.393},{"x":4035,"y":0.408},{"x":4074,"y":0.373},{"x":4112,"y":0.333},{"x":4151,"y":0.327},{"x":4190,"y":0.315},{"x":4229,"y":0.338},{"x":4248,"y":0.298},{"x":4287,"y":0.293},{"x":4326,"y":0.281},{"x":4365,"y":0.275},{"x":4404,"y":0.269},{"x":4442,"y":0.252},{"x":4481,"y":0.258},{"x":4520,"y":0.229},{"x":4559,"y":0.212},{"x":4597,"y":0.223},{"x":4636,"y":0.203},{"x":4675,"y":0.203},{"x":4733,"y":0.2},{"x":4772,"y":0.218},{"x":4811,"y":0.258},{"x":4850,"y":0.275},{"x":4877,"y":0.229},{"x":4908,"y":0.275},{"x":4947,"y":0.333},{"x":4985,"y":0.35},{"x":5024,"y":0.367},{"x":5055,"y":0.344},{"x":5102,"y":0.333},{"x":5133,"y":0.344},{"x":5160,"y":0.482},{"x":5199,"y":0.471},{"x":5238,"y":0.488},{"x":5276,"y":0.5},{"x":5315,"y":0.505},{"x":5335,"y":0.534},{"x":5374,"y":0.546},{"x":5412,"y":0.534},{"x":5451,"y":0.482},{"x":5470,"y":0.471},{"x":5509,"y":0.5},{"x":5548,"y":0.482},{"x":5587,"y":0.471},{"x":5626,"y":0.505},{"x":5665,"y":0.494},{"x":5703,"y":0.494},{"x":5742,"y":0.453},{"x":5769,"y":0.436},{"x":5800,"y":0.379},{"x":5839,"y":0.379},{"x":5878,"y":0.419},{"x":5917,"y":0.402},{"x":5955,"y":0.356},{"x":5994,"y":0.35},{"x":6033,"y":0.367},{"x":6072,"y":0.39},{"x":6111,"y":0.41},{"x":6150,"y":0.404},{"x":6188,"y":0.344},{"x":6219,"y":0.293},{"x":6250,"y":0.327},{"x":6285,"y":0.339},{"x":6312,"y":0.321},{"x":6351,"y":0.327},{"x":6390,"y":0.31},{"x":6421,"y":0.287},{"x":6460,"y":0.264},{"x":6499,"y":0.241},{"x":6537,"y":0.223},{"x":6576,"y":0.186},{"x":6615,"y":0.212},{"x":6654,"y":0.235},{"x":6693,"y":0.252},{"x":6724,"y":0.264},{"x":6751,"y":0.246},{"x":6782,"y":0.264},{"x":6802,"y":0.29},{"x":6840,"y":0.281},{"x":6867,"y":0.295},{"x":6906,"y":0.258},{"x":6945,"y":0.252},{"x":6976,"y":0.232},{"x":7015,"y":0.246},{"x":7054,"y":0.278},{"x":7081,"y":0.261},{"x":7131,"y":0.264},{"x":7170,"y":0.249},{"x":7209,"y":0.258},{"x":7244,"y":0.298}]
},
"spacing":19,
"bounds":"flush",
"vconcat":[
 {
  "width":566,"height":44,
  "view":{"stroke":null},
  "data":{"name":"genome"},
  "transform":[{"calculate":"(datum.start + datum.end) / 2","as":"mid"}],
  "layer":[
   {"mark":{"type":"rect","stroke":"#333","strokeWidth":1},
    "encoding":{
     "x":{"field":"start","type":"quantitative","scale":{"domain":[712,7311],"nice":false,"zero":false},"axis":null},
     "x2":{"field":"end"},
     "y":{"datum":0,"type":"quantitative","scale":{"domain":[0,2],"nice":false},"axis":null},
     "y2":{"datum":1},
     "fill":{"field":"region","type":"nominal","scale":{"domain":["structural","nonstructural"],"range":["#009fe3","#e31e24"]},"legend":null}}},
   {"transform":[{"filter":"datum.seg != '3B'"}],
    "mark":{"type":"text","fontSize":16,"baseline":"middle","align":"center","color":"#333","font":"Open Sans"},
    "encoding":{
     "x":{"field":"mid","type":"quantitative"},
     "y":{"datum":1.5,"type":"quantitative"},
     "text":{"field":"seg"}}}
  ]
 },
 {
  "spacing":65,
  "bounds":"flush",
  "resolve":{"scale":{"color":"independent"},"legend":{"color":"independent"}},
  "vconcat":[
   {
    "width":566,"height":407,
    "title":{"text":"A)","anchor":"start","frame":"group","dx":-66,"dy":2,"offset":0,"baseline":"middle"},
    "layer":[
     {"data":{"name":"shade"},
      "mark":{"type":"rect","fill":"#000","fillOpacity":0.09,"stroke":"#999","strokeDash":[1,1],"strokeWidth":1},
      "encoding":{
       "x":{"field":"start","type":"quantitative","scale":{"domain":[712,7311],"nice":false,"zero":false},
            "axis":{"values":[1000,2000,3000,4000,5000,6000,7000],"format":"d","grid":true,"title":null,"labelPadding":9}},
       "x2":{"field":"end"}}},
     {"data":{"name":"evA1"},"mark":{"type":"line","strokeWidth":2.2},
      "encoding":{"x":{"field":"x","type":"quantitative"},
       "y":{"field":"y","type":"quantitative","scale":{"domain":[0,0.7],"nice":false},
            "axis":{"values":[0,0.1,0.2,0.3,0.4,0.5,0.6,0.7],"labelExpr":"datum.value == 0 ? '0' : format(datum.value, '.1f')","title":"Pairwise amino acid distance","titlePadding":22,"labelPadding":7,"grid":true}},
       "color":{"datum":"EV-A1","type":"nominal","scale":{"domain":["EV-A1","EV-A2","EV-B","EV-C","EV-D"],"range":["#2e3192","#1ba1e2","#e31e24","#a2c523","#ffc000"]},
                "legend":{"title":null,"orient":"none","legendX":464,"legendY":16,"labelFontStyle":"italic"}}}},
     {"data":{"name":"evA2"},"mark":{"type":"line","strokeWidth":2.2},"encoding":{"x":{"field":"x","type":"quantitative"},"y":{"field":"y","type":"quantitative"},"color":{"datum":"EV-A2","type":"nominal"}}},
     {"data":{"name":"evB"},"mark":{"type":"line","strokeWidth":2.2},"encoding":{"x":{"field":"x","type":"quantitative"},"y":{"field":"y","type":"quantitative"},"color":{"datum":"EV-B","type":"nominal"}}},
     {"data":{"name":"evC"},"mark":{"type":"line","strokeWidth":2.2},"encoding":{"x":{"field":"x","type":"quantitative"},"y":{"field":"y","type":"quantitative"},"color":{"datum":"EV-C","type":"nominal"}}},
     {"data":{"name":"evD"},"mark":{"type":"line","strokeWidth":2.2},"encoding":{"x":{"field":"x","type":"quantitative"},"y":{"field":"y","type":"quantitative"},"color":{"datum":"EV-D","type":"nominal"}}}
    ]
   },
   {
    "width":566,"height":405,
    "title":{"text":"B)","anchor":"start","frame":"group","dx":-66,"dy":2,"offset":0,"baseline":"middle"},
    "layer":[
     {"data":{"name":"shade"},
      "mark":{"type":"rect","fill":"#000","fillOpacity":0.09,"stroke":"#999","strokeDash":[1,1],"strokeWidth":1},
      "encoding":{
       "x":{"field":"start","type":"quantitative","scale":{"domain":[712,7311],"nice":false,"zero":false},
            "axis":{"values":[1000,2000,3000,4000,5000,6000,7000],"format":"d","grid":true,"title":"Genome position","titlePadding":9,"labelPadding":9,"titleX":270}},
       "x2":{"field":"end"}}},
     {"data":{"name":"sa5"},"mark":{"type":"line","strokeWidth":2.2},
      "encoding":{"x":{"field":"x","type":"quantitative"},
       "y":{"field":"y","type":"quantitative","scale":{"domain":[0,0.7],"nice":false},
            "axis":{"values":[0,0.1,0.2,0.3,0.4,0.5,0.6,0.7],"labelExpr":"datum.value == 0 ? '0' : format(datum.value, '.1f')","title":"Pairwise amino acid distance","titlePadding":22,"labelPadding":7,"grid":true}},
       "color":{"datum":"SA5","type":"nominal","scale":{"domain":["A13","SA5","EV-J","EV-H"],"range":["#ffee00","#f4a8a8","#c4449a","#808080"]},
                "legend":{"title":null,"orient":"none","legendX":464,"legendY":16,"labelFontStyle":{"expr":"datum.label == 'A13' || datum.label == 'SA5' ? 'normal' : 'italic'"}}}}},
     {"data":{"name":"evH"},"mark":{"type":"line","strokeWidth":2.2},"encoding":{"x":{"field":"x","type":"quantitative"},"y":{"field":"y","type":"quantitative"},"color":{"datum":"EV-H","type":"nominal"}}},
     {"data":{"name":"evJ"},"mark":{"type":"line","strokeWidth":2.2},"encoding":{"x":{"field":"x","type":"quantitative"},"y":{"field":"y","type":"quantitative"},"color":{"datum":"EV-J","type":"nominal"}}},
     {"data":{"name":"a13"},"mark":{"type":"line","strokeWidth":2.2},"encoding":{"x":{"field":"x","type":"quantitative"},"y":{"field":"y","type":"quantitative"},"color":{"datum":"A13","type":"nominal"}}}
    ]
   }
  ]
 }
]
}
